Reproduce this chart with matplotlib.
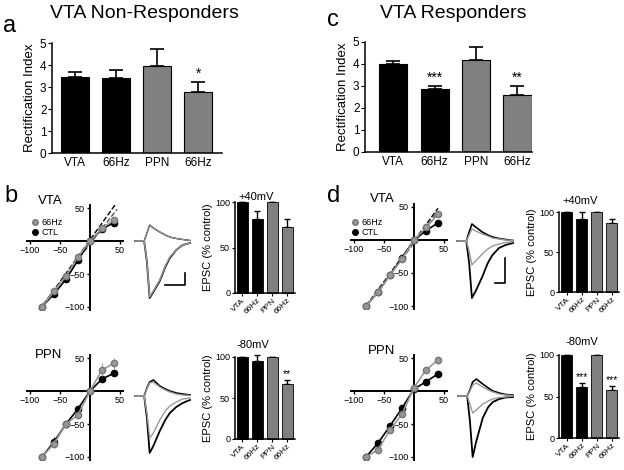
import matplotlib
matplotlib.use('Agg')
import matplotlib.pyplot as plt
from matplotlib.lines import Line2D

plt.rcParams['font.family'] = ['Liberation Sans', 'DejaVu Sans']
plt.rcParams['axes.linewidth'] = 1.1

W, H = 624, 470
GRAY = '#808080'
LGRAY = '#999999'

# rectification index (panels a, c)
ri_labels = ['VTA', '66Hz', 'PPN', '66Hz']
bar_colors = ['black', 'black', GRAY, GRAY]
nonresp_mean = [3.45, 3.42, 3.95, 2.78]
nonresp_sem = [0.23, 0.36, 0.77, 0.44]
nonresp_sig = ['', '', '', '*']
resp_mean = [3.98, 2.87, 4.20, 2.60]
resp_sem = [0.17, 0.13, 0.58, 0.42]
resp_sig = ['', '***', '', '**']

# EPSC % control insets (panels b, d)
epsc_labels = ['VTA', '66Hz', 'PPN', '66Hz']
b_pos40 = [100, 81, 100, 73]
b_pos40_sem = [0, 9, 0, 8]
b_neg80 = [100, 95, 100, 67]
b_neg80_sem = [0, 7, 0, 5]
b_neg80_sig = ['', '', '', '**']
d_pos40 = [100, 91, 100, 86]
d_pos40_sem = [0, 9, 0, 5]
d_neg80 = [100, 62, 100, 58]
d_neg80_sem = [0, 4, 0, 5]
d_neg80_sig = ['', '***', '', '***']

# I-V curves (mV vs normalised current)
iv_v = [-80, -60, -40, -20, 0, 20, 40]
b_vta_ctl = [-100, -80, -58, -29, 0, 18, 28]
b_vta_hz = [-100, -76, -53, -24, 0, 19, 32]
b_vta_ctl_err = [0, 4, 3, 3, 0, 3, 3]
b_vta_hz_err = [0, 3, 3, 3, 0, 2, 2]
b_ppn_ctl = [-100, -77, -50, -27, 0, 18, 27]
b_ppn_hz = [-100, -80, -50, -36, 0, 32, 42]
b_ppn_ctl_err = [0, 8, 4, 3, 0, 3, 5]
b_ppn_hz_err = [0, 6, 4, 4, 0, 10, 8]
d_vta_ctl = [-100, -79, -53, -27, 0, 14, 26]
d_vta_hz = [-100, -79, -53, -29, 0, 19, 39]
d_vta_ctl_err = [0, 3, 3, 3, 0, 3, 4]
d_vta_hz_err = [0, 3, 3, 3, 0, 3, 3]
d_ppn_ctl = [-100, -79, -53, -26, 3, 14, 26]
d_ppn_hz = [-100, -89, -59, -35, 5, 32, 47]
d_ppn_ctl_err = [0, 4, 3, 3, 2, 3, 3]
d_ppn_hz_err = [0, 5, 4, 4, 3, 5, 6]
# dashed linear fits (end points)
b_vta_fit_ctl = ([-85, 42], [-106, 55])
b_vta_fit_hz = ([-85, 45], [-104, 48])
d_vta_fit_ctl = ([-80, 40], [-100, 48])
d_vta_fit_hz = ([-80, 40], [-100, 43])

# example EPSC traces (ms, arbitrary units)
tr_t = [0, 10, 13, 16, 20, 27, 33, 38, 45, 52, 60]
b_vta_pos = [0, 0, 8, 16, 13, 9, 6, 4, 2.5, 1.5, 0.5]
b_vta_neg_ctl = [0, 0, -21, -57, -51, -40, -26, -17, -9, -4, -2]
b_vta_neg_hz = [0, 0, -20, -56, -50, -39, -25, -16, -9, -4, -2]
d_vta_pos_ctl = [0, 0, 9, 17, 14, 9, 6, 4, 2.5, 1.5, 0.5]
d_vta_pos_hz = [0, 0, 6, 12, 10, 7, 5, 3, 2, 1, 0.5]
d_vta_neg_ctl = [0, 0, -22, -57, -50, -36, -22, -14, -7, -4, -2]
d_vta_neg_hz = [0, 0, -10, -24, -20, -13, -8, -5, -3, -1.5, -0.5]
b_ppn_pos_ctl = [0, 0, 8, 14, 16, 10, 7, 5, 3, 2, 1]
b_ppn_pos_hz = [0, 0, 7, 13, 14, 9, 6, 4, 2, 1, 0.5]
b_ppn_neg_ctl = [0, 0, -22, -57, -50, -35, -24, -17, -11, -7, -4]
b_ppn_neg_hz = [0, 0, -17, -42, -37, -24, -15, -10, -6, -3, -2]
d_ppn_pos_ctl = [0, 0, 6, 14, 17, 12, 8, 5, 3, 1.5, 1]
d_ppn_pos_hz = [0, 0, 5, 11, 13, 9, 6, 4, 2, 1, 0.5]
d_ppn_neg_ctl = [0, 0, -25, -61, -45, -22, -11, -6, -3, -1.5, -1]
d_ppn_neg_hz = [0, 0, -8, -17, -14, -8, -5, -3, -1.5, -1, 0]
b_scale = ([33, 54, 54], [-44, -44, -32])
d_scale = ([41, 51, 51], [-42, -42, -17])

fig = plt.figure(figsize=(W / 100, H / 100), dpi=100)


def px_axes(x0, y0, x1, y1):
    return fig.add_axes([x0 / W, 1 - y1 / H, (x1 - x0) / W, (y1 - y0) / H])


def px_text(x, y, s, **kw):
    fig.text(x / W, 1 - y / H, s, **kw)


def ri_panel(x0, x1, ytop, ybot, xl, means, sems, sig):
    ax = px_axes(x0, ytop, x1, ybot)
    xs = list(range(len(means)))
    ax.bar(xs, means, width=0.68, color=bar_colors, edgecolor='black', linewidth=0.8, zorder=2)
    ax.errorbar(xs, means, yerr=[[0] * len(sems), sems], fmt='none', ecolor='black',
                elinewidth=1.2, capsize=5, capthick=1.2, zorder=1)
    for x, m, s, t in zip(xs, means, sems, sig):
        if t:
            ax.text(x, m + s + 0.05, t, ha='center', va='bottom', fontsize=10)
    ax.set_xlim(xl)
    ax.set_ylim(0, 5)
    ax.spines[['top', 'right']].set_visible(False)
    ax.set_yticks(range(6))
    ax.set_xticks(xs)
    ax.set_xticklabels(ri_labels)
    ax.tick_params(axis='x', length=0, labelsize=8.5, pad=3)
    ax.tick_params(axis='y', length=3, labelsize=8.5, pad=1)
    ax.set_ylabel('Rectification Index', fontsize=9.5, labelpad=3)
    return ax


def iv_panel(cx, cy, ctl, hz, ctl_err, hz_err, fits=None, legend=None):
    sx, sy = 0.6, 0.66
    ax = px_axes(cx - 105 * sx, cy - 55 * sy, cx + 55 * sx, cy + 105 * sy)
    ax.set_xlim(-105, 55)
    ax.set_ylim(-105, 55)
    ax.patch.set_alpha(0)
    ax.spines[['top', 'right']].set_visible(False)
    ax.spines['left'].set_position(('data', 0))
    ax.spines['bottom'].set_position(('data', 0))
    ax.spines['left'].set_linewidth(1.4)
    ax.spines['bottom'].set_linewidth(1.4)
    ax.set_xticks([-100, -50, 50])
    ax.set_yticks([-100, -50, 50])
    ax.tick_params(labelsize=6.5, length=2.5, width=1, pad=1)
    if fits:
        ax.plot(fits[0][0], fits[0][1], '--', color='black', lw=1.0, zorder=3)
        ax.plot(fits[1][0], fits[1][1], '--', color='#555555', lw=1.0, zorder=3)
    ax.errorbar(iv_v, ctl, yerr=ctl_err, color='black', lw=1.2, marker='o', ms=4.5,
                elinewidth=0.8, capsize=0, zorder=4)
    ax.errorbar(iv_v, hz, yerr=hz_err, color=LGRAY, lw=1.2, marker='o', ms=4.5,
                mec='#777777', elinewidth=0.8, capsize=0, zorder=5)
    if legend:
        handles = [Line2D([], [], ls='none', marker='o', ms=4, color=LGRAY, mec='#777777'),
                   Line2D([], [], ls='none', marker='o', ms=4, color='black')]
        ax.legend(handles, ['66Hz', 'CTL'], loc='upper left', frameon=False,
                  bbox_to_anchor=(legend[0] / W, 1 - legend[1] / H),
                  bbox_transform=fig.transFigure, fontsize=6.5, handlelength=0.8,
                  handletextpad=0.4, labelspacing=0.1, borderpad=0, borderaxespad=0)
    return ax


def trace_panel(x0, x1, yb, traces, scale=None):
    ax = px_axes(x0, yb - 30, x1, yb + 70)
    ax.set_xlim(0, 60)
    ax.set_ylim(-70, 30)
    ax.axis('off')
    for y, c, lw in traces:
        ax.plot(tr_t, y, color=c, lw=lw, clip_on=False)
    if scale:
        ax.plot(scale[0], scale[1], color='black', lw=1.2, clip_on=False)
    return ax


def epsc_panel(x0, x1, ytop, ybot, xl, vals, sems, sig=None):
    ax = px_axes(x0, ytop, x1, ybot)
    xs = list(range(len(vals)))
    ax.bar(xs, vals, width=0.73, color=bar_colors, edgecolor='black', linewidth=0.6,
           zorder=2, clip_on=False)
    ax.errorbar(xs, vals, yerr=[[0] * len(sems), sems], fmt='none', ecolor='black',
                elinewidth=1.0, capsize=2.5, capthick=1.0, zorder=1, clip_on=False)
    if sig:
        for x, v, s, t in zip(xs, vals, sems, sig):
            if t:
                ax.text(x, v + s + 1, t, ha='center', va='bottom', fontsize=7.5)
    ax.set_xlim(xl)
    ax.set_ylim(0, 100)
    ax.spines[['top', 'right']].set_visible(False)
    ax.set_yticks([0, 50, 100])
    ax.set_xticks(xs)
    ax.set_xticklabels(epsc_labels, rotation=45, ha='right', rotation_mode='anchor')
    ax.tick_params(axis='x', length=2, labelsize=6, pad=1)
    ax.tick_params(axis='y', length=2.5, labelsize=6.5, pad=1)
    ax.set_ylabel('EPSC (% control)', fontsize=8, labelpad=1.5)
    return ax


# panel a / c
ri_panel(52, 222, 43, 153, (-0.56, 3.58), nonresp_mean, nonresp_sem, nonresp_sig)
ri_panel(365, 532, 42, 152, (-0.68, 3.35), resp_mean, resp_sem, resp_sig)
px_text(144, 13, 'VTA Non-Responders', fontsize=14, ha='center', va='center')
px_text(453, 13, 'VTA Responders', fontsize=14, ha='center', va='center')
px_text(3, 32, 'a', fontsize=17, ha='left', va='baseline')
px_text(327, 26, 'c', fontsize=17, ha='left', va='baseline')
px_text(4, 202, 'b', fontsize=17, ha='left', va='baseline')
px_text(327, 202, 'd', fontsize=17, ha='left', va='baseline')

# panel b
iv_panel(90, 241, b_vta_ctl, b_vta_hz, b_vta_ctl_err, b_vta_hz_err,
         fits=(b_vta_fit_ctl, b_vta_fit_hz), legend=(31, 218))
iv_panel(90, 391, b_ppn_ctl, b_ppn_hz, b_ppn_ctl_err, b_ppn_hz_err)
px_text(50, 201, 'VTA', fontsize=9.5, ha='center', va='center')
px_text(49, 355, 'PPN', fontsize=9.5, ha='center', va='center')
trace_panel(135, 190, 241, [(b_vta_pos, 'black', 1.0), (b_vta_neg_ctl, 'black', 1.3),
                            (b_vta_pos, LGRAY, 0.8), (b_vta_neg_hz, LGRAY, 1.0)], b_scale)
trace_panel(135, 190, 396, [(b_ppn_pos_ctl, 'black', 1.2), (b_ppn_neg_ctl, 'black', 1.3),
                            (b_ppn_pos_hz, LGRAY, 1.0), (b_ppn_neg_hz, LGRAY, 1.0)])
epsc_panel(235, 295, 202, 293, (-0.47, 3.53), b_pos40, b_pos40_sem)
epsc_panel(235, 295, 357, 439, (-0.47, 3.53), b_neg80, b_neg80_sem, b_neg80_sig)
px_text(256, 197, '+40mV', fontsize=8, ha='center', va='center')
px_text(253, 345, '-80mV', fontsize=8, ha='center', va='center')

# panel d
iv_panel(414, 240, d_vta_ctl, d_vta_hz, d_vta_ctl_err, d_vta_hz_err,
         fits=(d_vta_fit_ctl, d_vta_fit_hz), legend=(351, 218))
iv_panel(414, 391, d_ppn_ctl, d_ppn_hz, d_ppn_ctl_err, d_ppn_hz_err)
px_text(382, 199, 'VTA', fontsize=9.5, ha='center', va='center')
px_text(382, 351, 'PPN', fontsize=9.5, ha='center', va='center')
trace_panel(457, 513, 241, [(d_vta_pos_ctl, 'black', 1.2), (d_vta_neg_ctl, 'black', 1.3),
                            (d_vta_pos_hz, LGRAY, 1.0), (d_vta_neg_hz, LGRAY, 1.0)], d_scale)
trace_panel(458, 513, 396, [(d_ppn_pos_ctl, 'black', 1.2), (d_ppn_neg_ctl, 'black', 1.3),
                            (d_ppn_pos_hz, LGRAY, 1.0), (d_ppn_neg_hz, LGRAY, 1.0)])
epsc_panel(559, 619, 212, 292, (-0.53, 3.47), d_pos40, d_pos40_sem)
epsc_panel(559, 619, 355, 438, (-0.53, 3.47), d_neg80, d_neg80_sem, d_neg80_sig)
px_text(580, 201, '+40mV', fontsize=8, ha='center', va='center')
px_text(582, 342, '-80mV', fontsize=8, ha='center', va='center')

fig.savefig('out.png', dpi=100)
